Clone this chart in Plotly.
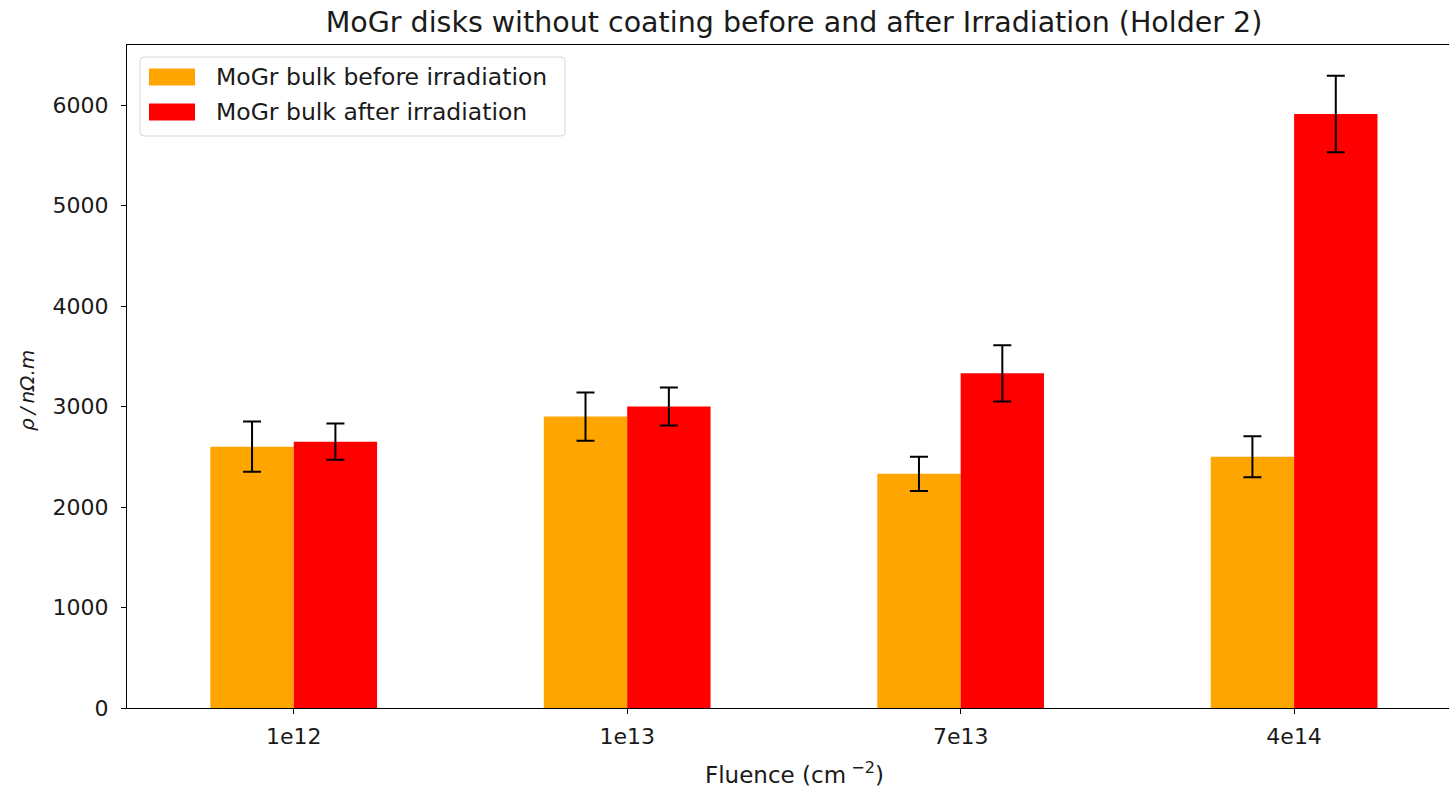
import plotly.graph_objects as go

# ---- data ----
categories = ["1e12", "1e13", "7e13", "4e14"]
before_values = [2600, 2900, 2330, 2500]
before_errors = [250, 240, 170, 205]
after_values = [2650, 3000, 3330, 5910]
after_errors = [180, 190, 280, 380]
series_names = ["MoGr bulk before irradiation", "MoGr bulk after irradiation"]
series_colors = ["#FFA500", "#FF0000"]
y_ticks = [0, 1000, 2000, 3000, 4000, 5000, 6000]

W, H = 1449, 787
L, R, T, B = 127, 0, 45, 79
FONT = "DejaVu Sans"
TXT = "#1a1a1a"


def px2x(px):
    return (px - L) / (W - L - R)


def py2y(py):
    return (H - B - py) / (H - T - B)


fig = go.Figure()
for name, vals, errs, col in [
    (series_names[0], before_values, before_errors, series_colors[0]),
    (series_names[1], after_values, after_errors, series_colors[1]),
]:
    fig.add_trace(go.Bar(
        x=categories, y=vals, name=name, marker=dict(color=col, line=dict(width=0)),
        error_y=dict(type="data", array=errs, visible=True, color="black",
                     thickness=2, width=9),
        showlegend=False,
    ))

# custom legend (matplotlib style)
shapes = []
x0, x1, y0, y1 = px2x(140), px2x(565), py2y(57), py2y(136)
rx, ry = 4 / (W - L - R), 4 / (H - T - B)
path = (f"M {x0+rx},{y0} L {x1-rx},{y0} Q {x1},{y0} {x1},{y0-ry} "
        f"L {x1},{y1+ry} Q {x1},{y1} {x1-rx},{y1} L {x0+rx},{y1} "
        f"Q {x0},{y1} {x0},{y1+ry} L {x0},{y0-ry} Q {x0},{y0} {x0+rx},{y0} Z")
shapes.append(dict(type="path", xref="paper", yref="paper", path=path,
                   fillcolor="rgba(255,255,255,0.8)", line=dict(color="#d6d6d6", width=1)))
annotations = []
for i, (name, col) in enumerate(zip(series_names, series_colors)):
    cy = 77 + i * 35
    shapes.append(dict(type="rect", xref="paper", yref="paper",
                       x0=px2x(149), x1=px2x(195), y0=py2y(cy - 8.5), y1=py2y(cy + 8.5),
                       fillcolor=col, line=dict(width=0)))
    annotations.append(dict(xref="paper", yref="paper", x=px2x(214), y=py2y(cy),
                            xanchor="left", yanchor="middle", text=name, showarrow=False,
                            font=dict(family=FONT, size=23.5, color=TXT)))

# axis titles
annotations.append(dict(xref="paper", yref="paper", x=px2x(794), y=py2y(773),
                        xanchor="center", yanchor="middle", showarrow=False,
                        text="Fluence (cm<sup> \u22122</sup>)",
                        font=dict(family=FONT, size=23, color=TXT)))
annotations.append(dict(xref="paper", yref="paper", x=px2x(27), y=py2y(391),
                        xanchor="center", yanchor="middle", showarrow=False, textangle=-90,
                        text="<i>\u03c1\u2009/\u2009n\u03a9.m</i>",
                        font=dict(family=FONT, size=20, color=TXT)))

fig.update_layout(
    width=W, height=H,
    margin=dict(l=L, r=R, t=T, b=B, pad=0),
    paper_bgcolor="white", plot_bgcolor="white",
    barmode="group", bargap=0.5, bargroupgap=0,
    font=dict(family=FONT, size=22, color=TXT),
    title=dict(text="MoGr disks without coating before and after Irradiation (Holder 2)",
               xref="container", yref="container", x=794 / W, y=1 - 22 / H,
               xanchor="center", yanchor="middle",
               font=dict(family=FONT, size=28.5, color=TXT)),
    shapes=shapes, annotations=annotations,
    xaxis=dict(range=[-0.5, 3.4645], showgrid=False, zeroline=False,
               showline=True, linecolor="black", linewidth=1.2, mirror=True,
               ticks="outside", ticklen=5, tickwidth=1.2, tickcolor="black",
               ticklabelstandoff=3,
               tickfont=dict(family=FONT, size=22, color=TXT)),
    yaxis=dict(range=[0, 6597], tickvals=y_ticks, showgrid=False, zeroline=False,
               showline=True, linecolor="black", linewidth=1.2, mirror=False,
               ticks="outside", ticklen=5, tickwidth=1.2, tickcolor="black",
               ticklabelstandoff=8,
               tickfont=dict(family=FONT, size=22, color=TXT)),
)

fig.write_html("out.html")
